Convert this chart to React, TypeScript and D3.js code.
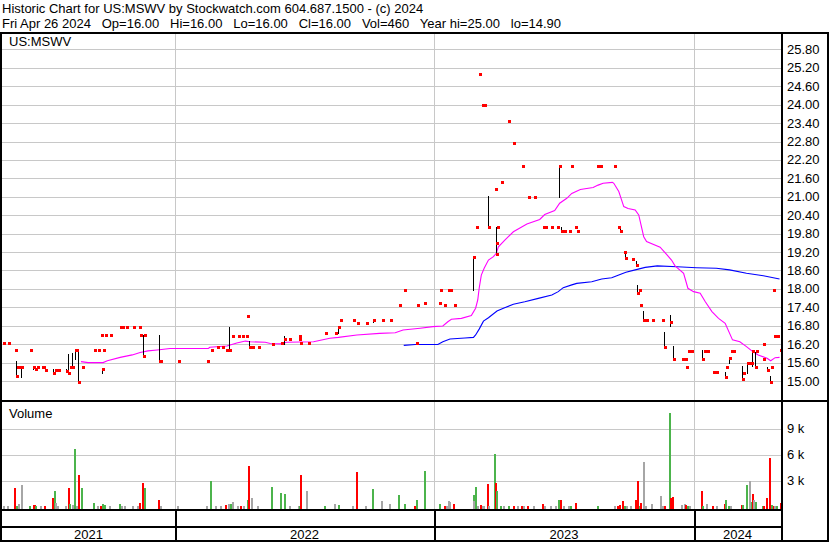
import React from "react";
import * as d3 from "d3";

// ---------- text ----------
const header1 = "Historic Chart for US:MSWV by Stockwatch.com 604.687.1500 - (c) 2024";
const header2 = "Fri Apr 26 2024   Op=16.00   Hi=16.00   Lo=16.00   Cl=16.00   Vol=460   Year hi=25.00   lo=14.90";
const symbolLabel = "US:MSWV";
const volumeLabel = "Volume";

// ---------- axes ----------
const priceTicks = [15.0, 15.6, 16.2, 16.8, 17.4, 18.0, 18.6, 19.2, 19.8, 20.4, 21.0, 21.6, 22.2, 22.8, 23.4, 24.0, 24.6, 25.2, 25.8];
const volTicks = [3000, 6000, 9000];
const volTickLabels = ["3 k", "6 k", "9 k"];
const yearStarts = ["2022-01-01", "2023-01-01", "2024-01-01"];
const yearLabels = ["2021", "2022", "2023", "2024"];

// ---------- daily closes ----------
const barDates = [
  "2021-05-05","2021-05-11","2021-05-21","2021-05-22","2021-05-24","2021-05-27","2021-05-30","2021-06-11","2021-06-16","2021-06-18",
  "2021-06-21","2021-06-28","2021-06-30","2021-07-02","2021-07-13","2021-07-17","2021-07-21","2021-08-01","2021-08-04","2021-08-06",
  "2021-08-10","2021-08-13","2021-08-15","2021-08-18","2021-08-23","2021-09-09","2021-09-15","2021-09-19","2021-09-20","2021-09-22",
  "2021-09-25","2021-10-02","2021-10-16","2021-10-19","2021-10-24","2021-11-03","2021-11-11","2021-11-13","2021-11-17","2021-11-19",
  "2021-12-09","2021-12-11","2022-01-05","2022-02-15","2022-02-20","2022-03-01","2022-03-08","2022-03-14","2022-03-18","2022-03-22",
  "2022-03-31","2022-04-05","2022-04-11","2022-04-13","2022-04-15","2022-04-20","2022-04-28","2022-05-17","2022-05-30","2022-06-03",
  "2022-06-11","2022-06-24","2022-06-25","2022-06-26","2022-07-07","2022-07-31","2022-08-14","2022-08-19","2022-08-21","2022-09-09",
  "2022-09-14","2022-09-27","2022-10-07","2022-10-19","2022-10-31","2022-11-12","2022-11-20","2022-12-06","2022-12-07","2022-12-18",
  "2023-01-07","2023-01-09","2023-01-15","2023-01-20","2023-01-23","2023-01-28","2023-02-25","2023-02-28","2023-03-05","2023-03-09",
  "2023-03-12","2023-03-17","2023-03-27","2023-03-28","2023-03-29","2023-03-30","2023-04-04","2023-04-15","2023-04-22","2023-05-04",
  "2023-05-12","2023-05-21","2023-06-02","2023-06-05","2023-06-14","2023-06-22","2023-06-25","2023-06-28","2023-07-02","2023-07-09",
  "2023-07-12","2023-07-18","2023-07-20","2023-08-18","2023-08-21","2023-09-10","2023-09-16","2023-09-19","2023-09-24","2023-09-26",
  "2023-10-05","2023-10-11","2023-10-13","2023-10-16","2023-10-17","2023-10-21","2023-10-25","2023-11-03","2023-11-16","2023-11-20",
  "2023-11-28","2023-12-02","2023-12-15","2023-12-19","2023-12-21","2023-12-23","2023-12-27","2024-01-11","2024-01-14","2024-01-18",
  "2024-01-27","2024-01-31","2024-02-12","2024-02-13","2024-02-17","2024-02-20","2024-02-23","2024-03-06","2024-03-07","2024-03-13",
  "2024-03-15","2024-03-18","2024-03-20","2024-03-23","2024-03-25","2024-04-03","2024-04-04","2024-04-09","2024-04-13","2024-04-15",
  "2024-04-17","2024-04-19","2024-04-22","2024-04-26"
];
const barClose = [
  16.25,16.25,16.00,15.15,15.47,15.47,15.47,16.00,15.45,15.40,
  15.47,15.47,15.47,15.37,15.27,15.37,15.37,15.33,15.27,15.47,
  15.47,16.00,16.00,14.97,15.47,16.00,16.00,16.50,15.39,16.00,
  16.50,16.50,16.75,16.75,16.75,16.75,16.75,16.50,15.83,16.50,
  15.65,15.65,15.65,15.65,16.00,16.12,16.12,16.00,16.00,16.48,
  16.48,16.48,16.48,17.13,16.12,16.12,16.12,16.20,16.25,16.38,
  16.38,16.38,16.47,16.23,16.23,16.57,16.57,16.75,17.00,17.00,
  16.90,16.90,17.00,17.00,17.00,17.49,17.96,16.25,17.49,17.55,
  17.55,17.96,17.49,17.96,17.96,17.49,19.05,20.00,25.00,24.00,
  24.00,20.00,21.26,19.50,19.13,20.00,21.48,23.47,22.76,22.00,
  21.00,21.00,20.00,20.00,20.00,20.00,22.00,19.90,19.90,19.90,
  22.00,20.03,19.90,22.00,22.00,22.00,20.00,19.90,19.21,18.99,
  18.97,18.79,17.88,17.96,17.48,16.99,16.99,16.99,16.99,16.10,
  16.91,15.72,15.72,15.72,15.47,15.98,15.98,15.72,15.98,15.98,
  15.30,15.30,15.14,15.47,15.76,15.98,15.98,15.07,15.25,15.58,
  15.58,15.58,15.98,15.47,15.98,15.72,16.20,15.36,14.98,15.47,
  17.96,16.48,16.48,16.00
];

// ---------- daily high/low ranges ----------
const hlDates = [
  "2021-05-22","2021-05-30","2021-06-16","2021-07-13","2021-08-01","2021-08-04","2021-08-10","2021-08-13","2021-08-18","2021-09-20",
  "2021-11-17","2021-12-09","2022-03-18","2022-04-15","2022-06-03","2022-08-19","2022-10-07","2023-02-25","2023-03-17","2023-03-29",
  "2023-06-25","2023-06-28","2023-09-19","2023-09-26","2023-10-11","2023-10-13","2023-10-21","2023-11-16","2023-11-20","2023-11-28",
  "2023-12-02","2024-01-11","2024-02-12","2024-02-17","2024-03-06","2024-03-13","2024-03-20","2024-03-23","2024-04-09","2024-04-13"
];
const hlHigh = [
  15.65,15.47,15.50,15.40,15.40,15.87,15.90,16.00,16.00,15.41,
  16.50,16.50,16.77,16.31,16.45,16.75,17.00,19.06,21.03,20.00,
  22.00,20.00,20.00,19.21,18.90,18.13,17.29,17.00,16.60,17.15,
  16.15,16.01,15.30,15.76,15.50,15.58,15.98,15.95,15.45,15.15
];
const hlLow = [
  15.14,15.14,15.40,15.27,15.30,15.27,15.47,15.73,14.97,15.25,
  15.81,15.65,15.99,16.12,16.20,16.57,16.92,17.97,19.98,19.13,
  21.00,19.90,19.90,18.97,18.79,17.86,16.94,16.95,16.10,16.80,
  15.72,15.72,15.14,15.60,15.07,15.25,15.50,15.47,15.36,14.98
];

// ---------- moving averages ----------
const maShortDates = [
  "2021-08-22","2021-09-01","2021-09-22","2021-09-28","2021-10-16","2021-11-02","2021-11-13","2021-11-24","2021-12-07","2021-12-25",
  "2022-02-17","2022-02-19","2022-03-15","2022-03-22","2022-03-29","2022-04-10","2022-04-17","2022-05-08","2022-05-15","2022-05-29",
  "2022-06-07","2022-07-15","2022-08-07","2022-08-19","2022-09-14","2022-10-16","2022-11-07","2022-11-18","2022-12-12","2022-12-30",
  "2023-01-13","2023-01-20","2023-01-25","2023-02-08","2023-02-22","2023-02-28","2023-03-03","2023-03-05","2023-03-08","2023-03-12",
  "2023-03-18","2023-03-25","2023-03-29","2023-04-01","2023-04-10","2023-04-22","2023-05-11","2023-05-29","2023-06-05","2023-06-19",
  "2023-06-26","2023-07-06","2023-07-13","2023-07-25","2023-08-12","2023-08-19","2023-08-26","2023-09-08","2023-09-10","2023-09-17",
  "2023-09-24","2023-09-30","2023-10-10","2023-10-15","2023-10-22","2023-10-26","2023-11-14","2023-11-24","2023-11-30","2023-12-05",
  "2023-12-17","2023-12-23","2023-12-31","2024-01-09","2024-01-16","2024-01-25","2024-02-03","2024-02-12","2024-02-22","2024-03-03",
  "2024-03-12","2024-03-21","2024-03-28","2024-04-09","2024-04-14","2024-04-20","2024-04-26"
];
const maShort = [
  15.63,15.60,15.60,15.66,15.77,15.85,15.93,15.98,16.01,16.06,
  16.06,16.10,16.14,16.19,16.24,16.30,16.28,16.26,16.22,16.21,
  16.26,16.28,16.39,16.42,16.50,16.55,16.57,16.66,16.72,16.77,
  16.79,16.93,17.01,17.04,17.13,17.37,17.64,18.02,18.45,18.67,
  18.94,19.05,19.16,19.37,19.59,19.86,20.11,20.26,20.42,20.55,
  20.79,20.95,21.11,21.24,21.30,21.38,21.44,21.47,21.44,21.17,
  20.68,20.62,20.57,20.41,19.70,19.54,19.36,19.10,18.94,18.75,
  18.51,18.02,17.91,17.86,17.58,17.26,17.04,16.88,16.34,16.28,
  16.12,15.95,15.85,15.74,15.66,15.76,15.77
];
const maLongDates = [
  "2022-11-19","2022-12-05","2023-01-06","2023-01-13","2023-01-23","2023-02-13","2023-02-25","2023-02-28","2023-03-05","2023-03-11",
  "2023-03-18","2023-03-30","2023-04-08","2023-04-22","2023-05-08","2023-05-27","2023-06-15","2023-06-24","2023-07-01","2023-07-13",
  "2023-07-20","2023-08-10","2023-08-24","2023-09-07","2023-09-17","2023-09-27","2023-10-10","2023-10-24","2023-11-10","2023-12-08",
  "2024-01-04","2024-01-31","2024-02-18","2024-03-12","2024-04-04","2024-04-26"
];
const maLong = [
  16.16,16.19,16.19,16.28,16.37,16.40,16.42,16.50,16.69,16.95,
  17.06,17.28,17.37,17.50,17.58,17.69,17.80,17.91,18.04,18.13,
  18.18,18.23,18.32,18.36,18.45,18.54,18.62,18.70,18.75,18.72,
  18.69,18.67,18.62,18.51,18.43,18.32
];

// ---------- volume ----------
const volDates = [
  "2021-05-04","2021-05-10","2021-05-20","2021-05-23","2021-05-25","2021-05-29","2021-06-10","2021-06-16","2021-06-17","2021-06-19",
  "2021-06-26","2021-07-01","2021-07-12","2021-07-15","2021-07-17","2021-07-19","2021-07-31","2021-08-04","2021-08-05","2021-08-09",
  "2021-08-12","2021-08-15","2021-08-18","2021-08-22","2021-09-08","2021-09-13","2021-09-18","2021-09-20","2021-09-23","2021-09-30",
  "2021-10-15","2021-10-17","2021-10-22","2021-11-01","2021-11-08","2021-11-11","2021-11-16","2021-11-18","2021-12-08","2021-12-11",
  "2022-01-04","2022-02-13","2022-02-19","2022-02-26","2022-03-06","2022-03-13","2022-03-16","2022-03-20","2022-03-22","2022-03-29",
  "2022-04-03","2022-04-07","2022-04-12","2022-04-14","2022-04-18","2022-04-26","2022-05-16","2022-05-29","2022-06-03","2022-06-10",
  "2022-06-23","2022-06-24","2022-06-26","2022-07-05","2022-07-30","2022-08-13","2022-08-19","2022-09-07","2022-09-13","2022-09-25",
  "2022-10-06","2022-10-18","2022-10-29","2022-11-11","2022-11-20","2022-12-04","2022-12-06","2022-12-17","2023-01-07","2023-01-14",
  "2023-01-18","2023-01-20","2023-01-22","2023-01-27","2023-02-24","2023-02-25","2023-02-27","2023-03-02","2023-03-06","2023-03-09",
  "2023-03-11","2023-03-16","2023-03-18","2023-03-26","2023-03-27","2023-03-29","2023-04-03","2023-04-08","2023-04-14","2023-04-21",
  "2023-04-27","2023-05-03","2023-05-06","2023-05-11","2023-05-20","2023-06-01","2023-06-04","2023-06-12","2023-06-19","2023-06-23",
  "2023-06-26","2023-07-01","2023-07-07","2023-07-11","2023-07-18","2023-08-17","2023-09-10","2023-09-14","2023-09-17","2023-09-22",
  "2023-09-25","2023-09-27","2023-10-03","2023-10-10","2023-10-12","2023-10-15","2023-10-17","2023-10-21","2023-10-24","2023-11-01",
  "2023-11-14","2023-11-16","2023-11-20","2023-11-26","2023-11-28","2023-12-01","2023-12-14","2023-12-17","2023-12-19","2023-12-22",
  "2023-12-25","2024-01-10","2024-01-12","2024-01-17","2024-01-25","2024-01-31","2024-02-10","2024-02-12","2024-02-16","2024-02-19",
  "2024-03-04","2024-03-06","2024-03-11","2024-03-15","2024-03-18","2024-03-20","2024-03-21","2024-03-23","2024-04-02","2024-04-04",
  "2024-04-08","2024-04-11","2024-04-14","2024-04-17","2024-04-19","2024-04-21","2024-04-26"
];
const volValues = [
  30,30,2150,60,280,2450,30,120,200,60,
  30,60,970,1780,390,30,30,2120,280,160,
  6620,60,3620,2120,390,30,30,280,160,30,
  280,30,30,30,30,390,2700,2120,740,30,
  30,30,2970,30,30,160,280,280,510,30,
  30,30,740,4660,1000,30,2240,1550,1430,30,
  30,30,3620,1780,30,280,160,30,4010,30,
  2010,620,280,1320,280,30,740,4080,280,30,
  30,620,510,280,1320,620,2200,30,160,30,
  30,2580,30,6050,2700,1780,30,30,30,30,
  30,30,30,30,30,280,30,30,30,740,
  740,30,30,30,390,30,30,60,160,620,
  30,30,30,740,2970,60,390,5120,30,280,
  1200,60,30,10800,970,1090,160,280,160,30,
  30,1780,30,280,30,30,280,740,60,30,
  160,160,2470,2970,510,1430,740,510,30,30,
  970,5580,160,60,30,60,460
];
// u = close up, d = close down, n = unchanged
const volDir = [
  "n","n","d","u","n","n","u","d","d","u",
  "n","d","d","u","n","n","n","d","u","n",
  "u","n","d","u","u","n","d","u","u","n",
  "u","n","n","n","n","d","d","u","d","n",
  "n","n","u","n","n","d","n","u","n","n",
  "d","n","u","d","n","n","u","u","u","n",
  "n","u","d","n","u","n","u","n","d","n",
  "u","n","n","u","u","d","u","u","u","d",
  "n","n","n","d","u","n","u","n","d","n",
  "n","d","n","u","d","u","u","n","u","d",
  "n","d","n","d","n","d","n","n","n","u",
  "d","n","n","u","d","u","n","d","d","d",
  "u","n","n","d","d","u","d","n","n","n",
  "n","n","d","u","d","d","n","n","d","u",
  "n","d","u","n","d","n","d","u","u","n",
  "d","u","u","n","u","d","n","u","u","d",
  "d","d","u","d","n","u","d"
];

const parse = (s: string) => d3.timeParse("%Y-%m-%d")(s) as Date;

const FONT = "'Liberation Sans', Arial, Helvetica, sans-serif";
const dirColor: Record<string, string> = { u: "#4CB44C", d: "#FF0000", n: "#A6A6A6" };

export default function App() {
  const W = 830, H = 543;
  const L = 2, R = 781;
  const x = d3
    .scaleTime()
    .domain(["2021-05-03", "2022-01-01", "2023-01-01", "2024-01-01", "2024-04-28"].map(parse))
    .range([L, 175, 434.3, 694.3, R]);
  const yP = d3.scaleLinear().domain([15, 25.8]).range([381, 49.4]);
  const yV = d3.scaleLinear().domain([0, 9000]).range([506.5, 428.5]);
  const volBase = 509;
  const frameTop = 32;

  const px = (s: string) => Math.round(x(parse(s)));

  const lineShort = d3
    .line<number>()
    .x((_, i) => x(parse(maShortDates[i])))
    .y((v) => yP(v));
  const lineLong = d3
    .line<number>()
    .x((_, i) => x(parse(maLongDates[i])))
    .y((v) => yP(v));

  const yearX = yearStarts.map((s) => Math.round(x(parse(s))));
  const yearBounds = [L, ...yearX, R];

  return (
    <svg
      width={W}
      height={H}
      style={{ position: "absolute", left: 0, top: 0, background: "#fff" }}
      fontFamily={FONT}
    >
      <rect x={0} y={0} width={W} height={H} fill="#fff" />
      {/* header */}
      <text x={2} y={13} fontSize={13} fill="#000">{header1}</text>
      <text x={2} y={28} fontSize={13} fill="#000" style={{ whiteSpace: "pre" }}>{header2}</text>

      {/* grid */}
      <g shapeRendering="crispEdges" stroke="#C8C8C8" strokeWidth={1}>
        {priceTicks.map((t) => (
          <line key={"pg" + t} x1={L} x2={R} y1={Math.round(yP(t)) + 0.5} y2={Math.round(yP(t)) + 0.5} />
        ))}
        {volTicks.map((t) => (
          <line key={"vg" + t} x1={L} x2={R} y1={Math.round(yV(t)) + 0.5} y2={Math.round(yV(t)) + 0.5} />
        ))}
        {yearX.map((xx, i) => (
          <line key={"yg" + i} x1={xx + 0.5} x2={xx + 0.5} y1={frameTop + 2} y2={volBase} />
        ))}
      </g>

      {/* moving averages */}
      <path d={lineLong(maLong) || ""} fill="none" stroke="#0000FF" strokeWidth={1.1} />
      <path d={lineShort(maShort) || ""} fill="none" stroke="#FF00FF" strokeWidth={1.1} />

      {/* high-low ranges */}
      <g shapeRendering="crispEdges" stroke="#000" strokeWidth={1}>
        {hlDates.map((d, i) => (
          <line
            key={"hl" + i}
            x1={px(d) + 0.5}
            x2={px(d) + 0.5}
            y1={Math.round(yP(hlHigh[i]))}
            y2={Math.round(yP(hlLow[i])) + 1}
          />
        ))}
      </g>
      {/* closes */}
      <g shapeRendering="crispEdges" fill="#FF0000">
        {barDates.map((d, i) => (
          <rect key={"c" + i} x={px(d)} y={Math.round(yP(barClose[i])) - 1} width={3} height={3} />
        ))}
      </g>

      {/* volume bars */}
      <g shapeRendering="crispEdges">
        {volDates.map((d, i) => {
          const top = Math.round(yV(volValues[i]));
          return (
            <rect key={"v" + i} x={px(d)} y={top} width={2} height={volBase - top} fill={dirColor[volDir[i]]} />
          );
        })}
      </g>

      {/* frame */}
      <g shapeRendering="crispEdges" fill="#000">
        <rect x={0} y={frameTop} width={829} height={2} />
        <rect x={0} y={frameTop} width={2} height={542 - frameTop} />
        <rect x={827} y={frameTop} width={2} height={542 - frameTop} />
        <rect x={781} y={frameTop} width={2} height={542 - frameTop} />
        <rect x={0} y={400} width={829} height={2} />
        <rect x={0} y={volBase} width={R} height={2} />
        <rect x={0} y={526} width={R} height={2} />
        <rect x={0} y={540} width={829} height={2} />
        {yearX.map((xx, i) => (
          <rect key={"yb" + i} x={xx} y={volBase} width={2} height={31} />
        ))}
      </g>

      {/* labels */}
      <text x={9} y={46} fontSize={13} fill="#000">{symbolLabel}</text>
      <text x={9} y={418} fontSize={13} fill="#000">{volumeLabel}</text>
      {priceTicks.map((t) => (
        <text key={"pl" + t} x={787} y={yP(t) + 4.5} fontSize={13} fill="#000">
          {t.toFixed(2)}
        </text>
      ))}
      {volTicks.map((t, i) => (
        <text key={"vl" + t} x={787} y={yV(t) + 4.5} fontSize={13} fill="#000">
          {volTickLabels[i]}
        </text>
      ))}
      {yearLabels.map((lab, i) => (
        <text
          key={"yl" + lab}
          x={(yearBounds[i] + yearBounds[i + 1]) / 2}
          y={538.5}
          fontSize={13}
          textAnchor="middle"
          fill="#000"
        >
          {lab}
        </text>
      ))}
    </svg>
  );
}
